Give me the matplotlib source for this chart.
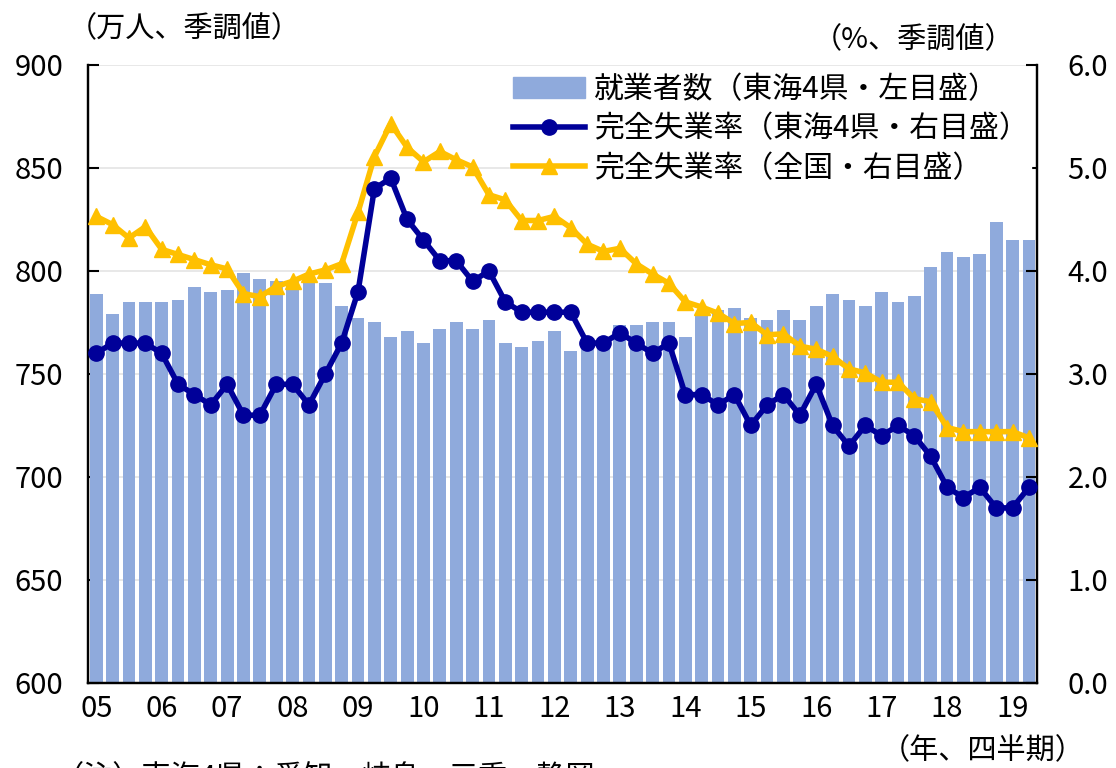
import matplotlib
matplotlib.use('Agg')
import matplotlib.pyplot as plt
from matplotlib.patches import Patch
from matplotlib.lines import Line2D

plt.rcParams['font.family'] = ['Noto Sans CJK JP', 'DejaVu Sans']

# 四半期（2005Q1〜2019Q2）
quarters = [f'{y:02d}Q{q}' for y in range(5, 20) for q in range(1, 5)][:58]
year_labels = ['05', '06', '07', '08', '09', '10', '11', '12',
               '13', '14', '15', '16', '17', '18', '19']

# 就業者数（東海4県、万人）
employed = [789, 779, 785, 785,
            785, 786, 792, 790,
            791, 799, 796, 795,
            795, 797, 794, 783,
            777, 775, 768, 771,
            765, 772, 775, 772,
            776, 765, 763, 766,
            771, 761, 764, 764,
            774, 774, 775, 775,
            768, 778, 781, 782,
            777, 776, 781, 776,
            783, 789, 786, 783,
            790, 785, 788, 802,
            809, 807, 808, 824,
            815, 815]

# 完全失業率（東海4県、%）
rate_tokai = [3.2, 3.3, 3.3, 3.3,
              3.2, 2.9, 2.8, 2.7,
              2.9, 2.6, 2.6, 2.9,
              2.9, 2.7, 3.0, 3.3,
              3.8, 4.8, 4.9, 4.5,
              4.3, 4.1, 4.1, 3.9,
              4.0, 3.7, 3.6, 3.6,
              3.6, 3.6, 3.3, 3.3,
              3.4, 3.3, 3.2, 3.3,
              2.8, 2.8, 2.7, 2.8,
              2.5, 2.7, 2.8, 2.6,
              2.9, 2.5, 2.3, 2.5,
              2.4, 2.5, 2.4, 2.2,
              1.9, 1.8, 1.9, 1.7,
              1.7, 1.9]

# 完全失業率（全国、%）
rate_japan = [4.53, 4.45, 4.32, 4.43,
              4.21, 4.16, 4.11, 4.06,
              4.02, 3.78, 3.75, 3.85,
              3.90, 3.97, 4.01, 4.07,
              4.57, 5.11, 5.43, 5.20,
              5.06, 5.16, 5.08, 5.01,
              4.74, 4.69, 4.49, 4.49,
              4.53, 4.42, 4.26, 4.19,
              4.22, 4.07, 3.97, 3.88,
              3.70, 3.65, 3.59, 3.49,
              3.50, 3.38, 3.39, 3.27,
              3.24, 3.17, 3.05, 3.01,
              2.92, 2.92, 2.76, 2.73,
              2.48, 2.44, 2.44, 2.44,
              2.44, 2.38]

BAR = '#8FAADC'
NAVY = '#000099'
GOLD = '#FFC000'

fig = plt.figure(figsize=(11.16, 7.68), dpi=100)
ax = fig.add_axes([0.0789, 0.1107, 0.8504, 0.8047])
ax2 = ax.twinx()

x = list(range(len(quarters)))
ax.bar(x, employed, width=0.78, color=BAR, zorder=2)
ax.set_ylim(600, 900)
ax.set_xlim(-0.5, len(quarters) - 0.5)
ax.set_yticks(range(600, 901, 50))
ax.yaxis.grid(True, color='#e6e6e6', linewidth=1.3, zorder=0)
ax.set_axisbelow(True)

ax2.plot(x, rate_japan, color=GOLD, lw=4, marker='^', ms=12, zorder=3)
ax2.plot(x, rate_tokai, color=NAVY, lw=4, marker='o', ms=11, zorder=4)
ax2.set_ylim(0, 6)
ax2.set_yticks([0, 1, 2, 3, 4, 5, 6])
ax2.set_yticklabels([f'{v:.1f}' for v in range(7)])

ax.set_xticks(x[::4])
ax.set_xticklabels(year_labels)

for a in (ax, ax2):
    a.spines['top'].set_visible(False)
    for s in ('left', 'right', 'bottom'):
        a.spines[s].set_linewidth(1.6)
        a.spines[s].set_color('black')

ax.tick_params(axis='y', direction='in', length=8, width=1.5, labelsize=21, pad=18)
ax.tick_params(axis='x', length=0, labelsize=21, pad=8)
ax2.tick_params(axis='y', direction='in', length=8, width=1.5, labelsize=21, pad=22)

handles = [Patch(color=BAR),
           Line2D([], [], color=NAVY, lw=4, marker='o', ms=11),
           Line2D([], [], color=GOLD, lw=4, marker='^', ms=12)]
labels = ['就業者数（東海4県・左目盛）',
          '完全失業率（東海4県・右目盛）',
          '完全失業率（全国・右目盛）']
leg = ax2.legend(handles, labels, loc='upper right', bbox_to_anchor=(0.997, 0.995),
                 fontsize=21.5, frameon=True, fancybox=False, framealpha=1,
                 edgecolor='white', handlelength=2.4, handletextpad=0.3,
                 labelspacing=0.28, borderpad=0.1, borderaxespad=0.1)

fig.text(0.061, 0.962, '（万人、季調値）', fontsize=21, va='center', ha='left')
fig.text(0.909, 0.948, '（%、季調値）', fontsize=21, va='center', ha='right')
fig.text(0.972, 0.022, '（年、四半期）', fontsize=21, va='center', ha='right')
fig.text(0.049, 0.006, '（注）東海4県：愛知、岐阜、三重、静岡', fontsize=21,
         va='top', ha='left')

fig.savefig('out.png', dpi=100)
